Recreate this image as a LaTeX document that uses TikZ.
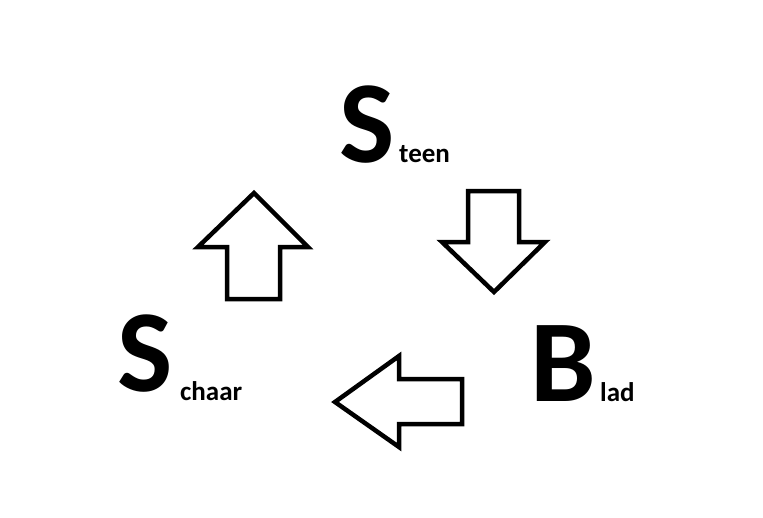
\documentclass[tikz,border=0pt]{standalone}
\usepackage{fontspec}
\setmainfont{Carlito}
\begin{document}
\begin{tikzpicture}[x=1pt,y=-1pt,
  big/.style={inner sep=0pt,anchor=base west,font=\bfseries\fontsize{117}{117}\selectfont},
  small/.style={inner sep=0pt,anchor=base west,font=\bfseries\fontsize{27}{27}\selectfont},
  fatarrow/.style={draw=black,line width=4.5pt,line join=miter,fill=white}]
\useasboundingbox (0,0) rectangle (763,517);
% letters
\node[big] (S1) at (339,162) {S};
\node[small] (t1) at (399,162) {teen};
\node[big] (S2) at (117,391) {S};
\node[small] (t2) at (180,400) {chaar};
\node[big] (B) at (530,401) {B};
\node[small] (t3) at (600,401) {lad};
% arrows
\draw[fatarrow] (254,193) -- (308,247) -- (280,247) -- (280,299) -- (227,299) -- (227,247) -- (198,247) -- cycle;
\draw[fatarrow] (468,191) -- (519,191) -- (519,242) -- (545,242) -- (494,292) -- (442,242) -- (468,242) -- cycle;
\draw[fatarrow] (335,402) -- (399,356) -- (399,379) -- (462,379) -- (462,424) -- (399,424) -- (399,447) -- cycle;
\end{tikzpicture}
\end{document}
